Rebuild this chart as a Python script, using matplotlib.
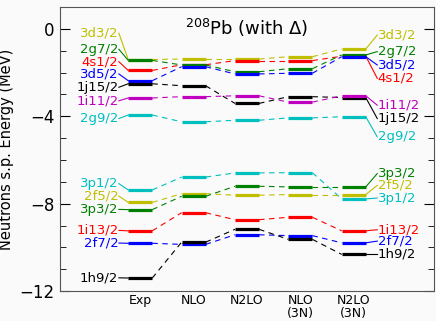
import matplotlib
matplotlib.use("Agg")
import matplotlib.pyplot as plt

# calculations / columns
columns = ["Exp", "NLO", "N2LO", "NLO\n(3N)", "N2LO\n(3N)"]

# neutron single particle levels (MeV), one value per column
states = ["3d3/2", "4s1/2", "2g7/2", "3d5/2", "1j15/2", "1i11/2", "2g9/2",
          "3p1/2", "2f5/2", "3p3/2", "1i13/2", "2f7/2", "1h9/2"]
e_3d32 = [-1.40, -1.38, -1.38, -1.27, -0.92]
e_4s12 = [-1.90, -1.64, -1.45, -1.45, -1.25]
e_2g72 = [-1.44, -1.65, -1.96, -1.82, -1.19]
e_3d52 = [-2.37, -1.73, -2.06, -2.03, -1.27]
e_1j152 = [-2.51, -2.60, -3.41, -3.10, -3.14]
e_1i112 = [-3.16, -3.10, -3.06, -3.35, -3.06]
e_2g92 = [-3.94, -4.25, -4.18, -4.07, -4.02]
e_3p12 = [-7.37, -6.78, -6.59, -6.58, -7.78]
e_2f52 = [-7.94, -7.54, -7.61, -7.58, -7.58]
e_3p32 = [-8.27, -7.66, -7.20, -7.23, -7.23]
e_1i132 = [-9.24, -8.41, -8.73, -8.62, -9.24]
e_2f72 = [-9.81, -9.86, -9.42, -9.46, -9.79]
e_1h92 = [-11.40, -9.76, -9.17, -9.63, -10.32]
levels = [e_3d32, e_4s12, e_2g72, e_3d52, e_1j152, e_1i112, e_2g92,
          e_3p12, e_2f52, e_3p32, e_1i132, e_2f72, e_1h92]

colors = ["y", "r", "g", "b", "k", "m", "c", "c", "y", "g", "r", "b", "k"]

# where the labels sit (spread out so they don't overlap)
label_y_left = [-0.20, -1.50, -0.93, -2.06, -2.67, -3.29, -4.10,
                -7.08, -7.65, -8.26, -9.22, -9.80, -11.39]
label_y_right = [-0.28, -2.26, -1.04, -1.65, -4.10, -3.49, -4.94,
                 -7.74, -7.16, -6.62, -9.19, -9.71, -10.32]

hw = 0.225
fig = plt.figure(figsize=(4.36, 3.21), dpi=100, facecolor="#fafafa")
ax = fig.add_axes([0.138, 0.093, 0.857, 0.885])
ax.set_facecolor("#fafafa")

xs = list(range(1, len(columns) + 1))
for name, e, c, yl, yr in zip(states, levels, colors, label_y_left, label_y_right):
    for x, v in zip(xs, e):
        ax.plot([x - hw, x + hw], [v, v], color=c, lw=2.3, solid_capstyle="butt")
    for i in range(len(xs) - 1):
        ax.plot([xs[i] + hw, xs[i + 1] - hw], [e[i], e[i + 1]], color=c,
                lw=0.8, ls=(0, (5, 4)))
    # left labels (Exp)
    ax.plot([0.60, xs[0] - hw], [yl, e[0]], color=c, lw=0.8)
    ax.text(0.59, yl, name, color=c, ha="right", va="center", fontsize=9.5)
    # right labels (last column)
    ax.plot([xs[-1] + hw, 5.44], [e[-1], yr], color=c, lw=0.8)
    ax.text(5.45, yr, name, color=c, ha="left", va="center", fontsize=9.5)

ax.text(3.0, -0.28, r"$^{208}$Pb (with $\Delta$)", ha="center", va="baseline",
        fontsize=13)

ax.set_xlim(-0.5, 6.5)
ax.set_ylim(-12, 1)
ax.set_xticks(xs)
ax.set_xticklabels(columns, fontsize=9, linespacing=1.0)
ax.tick_params(axis="x", length=0, pad=2)
ax.set_yticks([-12, -8, -4, 0])
ax.set_yticks(range(-12, 1), minor=True)
ax.tick_params(axis="y", which="major", direction="in", length=7,
               labelsize=12, right=True, pad=4)
ax.tick_params(axis="y", which="minor", direction="in", length=4, right=True)
ax.set_ylabel("Neutrons s.p. Energy (MeV)", fontsize=10.5, labelpad=4)
for s in ax.spines.values():
    s.set_color("#555555")

fig.savefig("out.png", dpi=100, facecolor=fig.get_facecolor())
